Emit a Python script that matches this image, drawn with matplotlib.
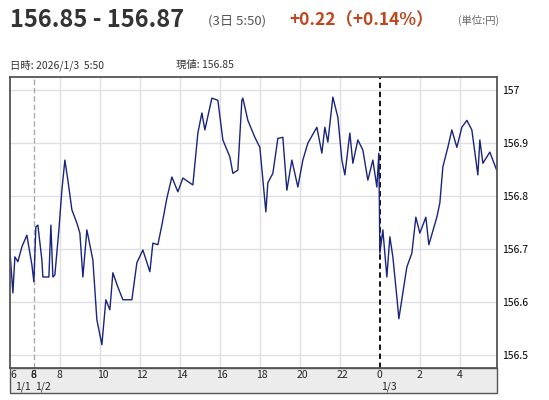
import matplotlib.pyplot as plt
from matplotlib.patches import Rectangle

plt.rcParams['font.family'] = ['Noto Sans CJK JP', 'DejaVu Sans']

# hours since 1/2 00:00 (1/1 section compressed at left)
hours = [5.5, 5.65, 5.75, 5.9, 6.1, 6.35, 6.6, 6.7, 6.8, 6.9, 7.1, 7.15, 7.45, 7.55, 7.65, 7.75,
         7.95, 8.1, 8.25, 8.4, 8.6, 8.85, 9.0, 9.15, 9.35, 9.65, 9.85, 10.1, 10.3, 10.5, 10.65,
         10.9, 11.15, 11.6, 11.85, 12.15, 12.5, 12.65, 12.9, 13.1, 13.35, 13.6, 13.9, 14.15,
         14.65, 14.9, 15.1, 15.25, 15.6, 15.9, 16.15, 16.5, 16.65, 16.9, 17.1, 17.15, 17.4,
         17.75, 18.0, 18.3, 18.4, 18.65, 18.9, 19.15, 19.35, 19.6, 19.9, 20.15, 20.4, 20.85,
         21.1, 21.25, 21.4, 21.65, 21.9, 22.1, 22.25, 22.5, 22.65, 22.9, 23.15, 23.4, 23.65,
         23.85, 23.95, 24.0, 24.15, 24.35, 24.5, 24.65, 24.85, 24.95, 25.15, 25.35, 25.6, 25.8,
         26.0, 26.3, 26.45, 26.85, 27.0, 27.15, 27.4, 27.6, 27.85, 28.1, 28.35, 28.6, 28.9,
         29.0, 29.15, 29.5, 29.75, 29.83]
prices = [156.698, 156.617, 156.685, 156.676, 156.704, 156.726, 156.670, 156.638, 156.742,
          156.745, 156.679, 156.647, 156.647, 156.745, 156.647, 156.651, 156.736, 156.811,
          156.868, 156.830, 156.774, 156.749, 156.730, 156.647, 156.736, 156.679, 156.566,
          156.519, 156.604, 156.585, 156.655, 156.628, 156.604, 156.604, 156.674, 156.698,
          156.657, 156.711, 156.708, 156.745, 156.796, 156.836, 156.808, 156.834, 156.821,
          156.919, 156.957, 156.925, 156.985, 156.981, 156.906, 156.874, 156.843, 156.849,
          156.981, 156.985, 156.943, 156.911, 156.892, 156.770, 156.825, 156.843, 156.909,
          156.911, 156.811, 156.868, 156.817, 156.868, 156.900, 156.930, 156.881, 156.930,
          156.902, 156.987, 156.949, 156.868, 156.840, 156.919, 156.862, 156.906, 156.887,
          156.830, 156.868, 156.817, 156.881, 156.692, 156.736, 156.647, 156.723, 156.685,
          156.609, 156.568, 156.617, 156.666, 156.692, 156.760, 156.730, 156.760, 156.708,
          156.760, 156.787, 156.855, 156.892, 156.925, 156.892, 156.930, 156.943, 156.925,
          156.840, 156.906, 156.862, 156.883, 156.858, 156.850]

tick_pos = [5.7, 6.7, 6.7, 8, 10, 12, 14, 16, 18, 20, 22, 24, 26, 28]
tick_lab = ['6', '6', '8', '8', '10', '12', '14', '16', '18', '20', '22', '0', '2', '4']
date_pos = [5.7, 6.7, 24]
date_lab = ['1/1', '1/2', '1/3']
y_ticks = [156.5, 156.6, 156.7, 156.8, 156.9, 157]

AX_L, AX_W = 0.018, 0.887
X0, X1 = 5.5, 29.85

fig = plt.figure(figsize=(5.49, 4.0), dpi=100)
ax = fig.add_axes([AX_L, 0.08, AX_W, 0.7275])
ax.plot(hours, prices, color='#1a237e', lw=1.0)
ax.set_xlim(X0, X1)
ax.set_ylim(156.475, 157.025)

for t in [8, 10, 12, 14, 16, 18, 20, 22, 26, 28]:
    ax.axvline(t, color='#e0e0e0', lw=1, zorder=0)
for y in y_ticks:
    ax.axhline(y, color='#e0e0e0', lw=1, zorder=0)
ax.axvline(6.7, color='#aaaaaa', lw=1, ls=(0, (4, 2)), zorder=1)
ax.axvline(24, color='black', lw=1.3, ls=(0, (3, 2)), zorder=1)

ax.set_xticks([])
ax.yaxis.tick_right()
ax.set_yticks(y_ticks)
ax.set_yticklabels(['156.5', '156.6', '156.7', '156.8', '156.9', '157'], fontsize=7.5)
ax.tick_params(axis='y', length=0, pad=4)
for s in ax.spines.values():
    s.set_color('#555555')
    s.set_linewidth(1.3)


def fx(t):
    return AX_L + (t - X0) / (X1 - X0) * AX_W


# grey time band below the plot
fig.add_artist(Rectangle((AX_L, 0.0175), AX_W, 0.0625, transform=fig.transFigure,
                         facecolor='#ececec', edgecolor='#555555', lw=1.0, zorder=0))
for t, lab in zip(tick_pos, tick_lab):
    fig.text(fx(t) - 0.006, 0.062, lab, fontsize=7.5, va='center', ha='left',
             color='#222222', zorder=3)
for t, lab in zip(date_pos, date_lab):
    fig.text(fx(t) + 0.002, 0.033, lab, fontsize=7.5, va='center', ha='left',
             color='#222222', zorder=3)

# header
fig.text(0.018, 0.95, '156.85 - 156.87', fontsize=17, fontweight='bold',
         color='#333333', va='center')
fig.text(0.378, 0.948, '(3日 5:50)', fontsize=9.5, color='#555555', va='center')
fig.text(0.528, 0.95, '+0.22（+0.14%）', fontsize=12.5, fontweight='bold',
         color='#c0461e', va='center')
fig.text(0.835, 0.948, '(単位:円)', fontsize=7.5, color='#666666', va='center')
fig.text(0.018, 0.838, '日時: 2026/1/3  5:50', fontsize=7.5, color='#333333', va='center')
fig.text(0.32, 0.838, '現値: 156.85', fontsize=7.5, color='#333333', va='center')

fig.savefig('out.png', dpi=100)
